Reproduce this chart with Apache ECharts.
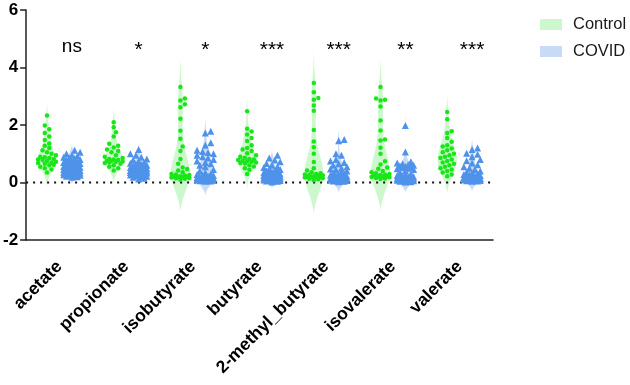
<!DOCTYPE html>
<html>
<head>
<meta charset="utf-8">
<script src="https://cdn.jsdelivr.net/npm/echarts@6/dist/echarts.min.js"></script>
<style>
    html, body { margin: 0; padding: 0; background: #fff; }
    #chart { width: 630px; height: 385px; }
</style>
</head>
<body>
<div id="chart"></div>
<script>
    var categories = ['acetate', 'propionate', 'isobutyrate', 'butyrate', '2-methyl_butyrate', 'isovalerate', 'valerate'];
    var significance = ['ns', '*', '*', '***', '***', '**', '***'];

    // Control (green dots)
    var acetateControl = [2.33, 1.98, 1.85, 1.72, 1.6, 1.48, 1.36, 1.28, 1.2, 1.12, 1.05, 1.0, 0.95, 0.9, 0.88, 0.85, 0.82, 0.8, 0.78, 0.75, 0.72, 0.7, 0.68, 0.65, 0.62, 0.6, 0.55, 0.5, 0.45, 0.35];
    var propionateControl = [2.1, 1.92, 1.75, 1.6, 1.35, 1.28, 1.22, 1.15, 1.1, 1.05, 0.95, 0.9, 0.85, 0.82, 0.8, 0.78, 0.76, 0.75, 0.73, 0.72, 0.7, 0.68, 0.65, 0.6, 0.55, 0.5, 0.42];
    var isobutyrateControl = [3.32, 2.92, 2.85, 2.72, 2.62, 2.22, 1.8, 1.52, 1.25, 1.1, 0.82, 0.65, 0.52, 0.47, 0.42, 0.36, 0.3, 0.28, 0.26, 0.24, 0.22, 0.21, 0.2, 0.19, 0.18, 0.17, 0.16, 0.15, 0.13, 0.1];
    var butyrateControl = [2.48, 1.87, 1.77, 1.67, 1.55, 1.44, 1.3, 1.2, 1.15, 1.1, 1.02, 0.95, 0.9, 0.86, 0.82, 0.8, 0.78, 0.76, 0.74, 0.72, 0.7, 0.68, 0.66, 0.6, 0.56, 0.5, 0.44, 0.3];
    var methylButyrateControl = [3.46, 3.14, 2.94, 2.88, 2.68, 2.5, 1.83, 1.43, 1.23, 1.0, 0.71, 0.5, 0.42, 0.36, 0.32, 0.3, 0.28, 0.26, 0.25, 0.24, 0.22, 0.21, 0.2, 0.19, 0.18, 0.17, 0.15, 0.13, 0.11, 0.08];
    var isovalerateControl = [3.32, 2.92, 2.88, 2.85, 2.64, 2.16, 1.81, 1.5, 1.46, 1.21, 1.0, 0.74, 0.63, 0.52, 0.48, 0.4, 0.36, 0.32, 0.3, 0.28, 0.26, 0.24, 0.22, 0.21, 0.2, 0.19, 0.18, 0.16, 0.14, 0.12];
    var valerateControl = [2.45, 2.2, 1.78, 1.72, 1.55, 1.42, 1.3, 1.25, 1.18, 1.12, 1.05, 1.0, 0.95, 0.9, 0.85, 0.8, 0.75, 0.7, 0.65, 0.6, 0.55, 0.5, 0.45, 0.4, 0.35, 0.28, 0.22];

    // COVID (blue triangles)
    var acetateCovid = [1.12, 1.05, 1.0, 0.95, 0.92, 0.88, 0.85, 0.82, 0.8, 0.78, 0.75, 0.72, 0.7, 0.68, 0.66, 0.64, 0.62, 0.6, 0.58, 0.56, 0.55, 0.53, 0.52, 0.5, 0.48, 0.47, 0.45, 0.44, 0.42, 0.41, 0.4, 0.38, 0.37, 0.36, 0.35, 0.33, 0.32, 0.31, 0.3, 0.28, 0.27, 0.26, 0.25, 0.24, 0.22, 0.2, 0.18];
    var propionateCovid = [1.15, 1.0, 0.95, 0.88, 0.82, 0.78, 0.74, 0.7, 0.67, 0.64, 0.62, 0.6, 0.58, 0.56, 0.54, 0.52, 0.5, 0.49, 0.48, 0.46, 0.45, 0.44, 0.42, 0.41, 0.4, 0.39, 0.38, 0.37, 0.36, 0.35, 0.34, 0.33, 0.32, 0.3, 0.29, 0.28, 0.26, 0.24, 0.22, 0.2, 0.18, 0.15, 0.12];
    var isobutyrateCovid = [1.78, 1.72, 1.38, 1.3, 1.12, 1.08, 1.04, 1.0, 0.95, 0.9, 0.85, 0.8, 0.75, 0.7, 0.65, 0.6, 0.55, 0.45, 0.4, 0.35, 0.3, 0.28, 0.26, 0.24, 0.22, 0.2, 0.19, 0.18, 0.17, 0.16, 0.15, 0.14, 0.13, 0.12, 0.11, 0.1, 0.09, 0.08, 0.07, 0.06, 0.05, 0.04];
    var butyrateCovid = [0.95, 0.85, 0.78, 0.72, 0.66, 0.6, 0.56, 0.52, 0.48, 0.45, 0.42, 0.4, 0.38, 0.36, 0.34, 0.32, 0.3, 0.28, 0.27, 0.26, 0.25, 0.24, 0.22, 0.21, 0.2, 0.19, 0.18, 0.17, 0.16, 0.15, 0.14, 0.13, 0.12, 0.11, 0.1, 0.09, 0.08, 0.07, 0.06, 0.05, 0.04, 0.02];
    var methylButyrateCovid = [1.5, 1.45, 1.0, 0.95, 0.8, 0.75, 0.7, 0.65, 0.6, 0.55, 0.5, 0.47, 0.44, 0.4, 0.36, 0.33, 0.3, 0.28, 0.26, 0.24, 0.22, 0.2, 0.19, 0.18, 0.17, 0.16, 0.15, 0.14, 0.13, 0.12, 0.11, 0.1, 0.09, 0.08, 0.07, 0.06, 0.05, 0.04, 0.03];
    var isovalerateCovid = [1.98, 1.06, 0.72, 0.68, 0.65, 0.62, 0.6, 0.58, 0.56, 0.54, 0.52, 0.5, 0.48, 0.45, 0.4, 0.35, 0.3, 0.26, 0.24, 0.22, 0.2, 0.19, 0.18, 0.17, 0.16, 0.15, 0.14, 0.13, 0.12, 0.11, 0.1, 0.09, 0.08, 0.07, 0.06, 0.05, 0.04, 0.03, 0.02];
    var valerateCovid = [1.2, 1.15, 1.02, 0.98, 0.9, 0.8, 0.76, 0.68, 0.62, 0.55, 0.5, 0.45, 0.4, 0.36, 0.33, 0.3, 0.28, 0.26, 0.24, 0.22, 0.2, 0.19, 0.18, 0.17, 0.16, 0.15, 0.14, 0.13, 0.12, 0.11, 0.1, 0.09, 0.08, 0.07, 0.06, 0.05, 0.04];

    var controlGroups = [acetateControl, propionateControl, isobutyrateControl, butyrateControl, methylButyrateControl, isovalerateControl, valerateControl];
    var covidGroups = [acetateCovid, propionateCovid, isobutyrateCovid, butyrateCovid, methylButyrateCovid, isovalerateCovid, valerateCovid];

    var yMin = -2, yMax = 6, yStep = 2;
    var starLevel = 4.72;

    var GRID = {left: 24, right: 137, top: 10, bottom: 145};
    var plotW = 630 - GRID.left - GRID.right;
    var plotH = 385 - GRID.top - GRID.bottom;
    var pxPerCat = plotW / categories.length;
    var pxPerUnit = plotH / (yMax - yMin);
    var groupOff = 12.5 / pxPerCat;
    var violinHalf = 9.5;

    var FONT = '"Liberation Sans", Arial, sans-serif';
    var GREEN = '#19e619', GREEN_FILL = '#cdf7cd', GREEN_LINE = '#a8eea8';
    var BLUE = '#4f92ea', BLUE_FILL = '#c7dbf6', BLUE_LINE = '#a6c4ef';

    // gaussian kde, cut at 2 bandwidths past the data and tapered to zero
    function kde(values) {
        var n = values.length;
        var mean = values.reduce(function (a, b) { return a + b; }, 0) / n;
        var sd = Math.sqrt(values.reduce(function (a, b) { return a + (b - mean) * (b - mean); }, 0) / (n - 1));
        var bw = 1.06 * sd * Math.pow(n, -0.2);
        var lo = Math.min.apply(null, values) - 2 * bw;
        var hi = Math.max.apply(null, values) + 2 * bw;
        var steps = 90, pts = [];
        for (var k = 0; k <= steps; k++) {
            var y = lo + (hi - lo) * k / steps;
            var d = 0;
            values.forEach(function (v) { var z = (y - v) / bw; d += Math.exp(-0.5 * z * z); });
            pts.push([y, d]);
        }
        var dLo = pts[0][1], dHi = pts[steps][1];
        var maxW = 0;
        pts.forEach(function (p, k) {
            p[1] = Math.max(0, p[1] - (dLo + (dHi - dLo) * k / steps));
            maxW = Math.max(maxW, p[1]);
        });
        pts.forEach(function (p) { p[1] = p[1] / maxW * violinHalf; });
        return pts;
    }

    function quantile(values, q) {
        var s = values.slice().sort(function (a, b) { return a - b; });
        var pos = (s.length - 1) * q, b = Math.floor(pos);
        return s[b] + (s[Math.min(b + 1, s.length - 1)] - s[b]) * (pos - b);
    }

    // beeswarm offsets in pixels
    function swarm(values, d, maxOff) {
        var placed = [], out = [];
        var order = values.map(function (v, k) { return k; }).sort(function (a, b) { return values[a] - values[b]; });
        order.forEach(function (k) {
            var y = values[k] * pxPerUnit;
            var best = 0, bestScore = -1;
            var nSteps = Math.floor(maxOff / (d / 2));
            for (var s = 0; s <= 2 * nSteps; s++) {
                var off = (s === 0) ? 0 : ((s % 2) ? 1 : -1) * Math.ceil(s / 2) * d / 2;
                var minD = Infinity;
                placed.forEach(function (p) {
                    var dd = Math.sqrt((p[0] - off) * (p[0] - off) + (p[1] - y) * (p[1] - y));
                    if (dd < minD) minD = dd;
                });
                if (minD >= d) { best = off; break; }
                if (minD > bestScore) { bestScore = minD; best = off; }
            }
            placed.push([best, y]);
            out[k] = best;
        });
        return out;
    }

    function violinSeries(name, groups, side, fill, line) {
        var shapes = groups.map(kde);
        return {
            name: name,
            type: 'custom',
            xAxisIndex: 1,
            z: 1,
            silent: true,
            data: groups.map(function (g, i) { return [i + 0.5 + side * groupOff, 0, i]; }),
            renderItem: function (params, api) {
                var i = api.value(2), cx = api.value(0);
                var left = [], right = [];
                shapes[i].forEach(function (p) {
                    var c = api.coord([cx, p[0]]);
                    left.push([c[0] - p[1], c[1]]);
                    right.unshift([c[0] + p[1], c[1]]);
                });
                var children = [{
                    type: 'polygon',
                    shape: {points: left.concat(right)},
                    style: {fill: fill, stroke: null}
                }];
                [0.25, 0.5, 0.75].forEach(function (q) {
                    var v = quantile(groups[i], q);
                    var c = api.coord([cx, v]);
                    var w = shapes[i][0];
                    shapes[i].forEach(function (p) { if (Math.abs(p[0] - v) < Math.abs(w[0] - v)) w = p; });
                    children.push({
                        type: 'line',
                        shape: {x1: c[0] - w[1], y1: c[1], x2: c[0] + w[1], y2: c[1]},
                        style: {stroke: line, lineWidth: 1, lineDash: q === 0.5 ? null : [3, 2]}
                    });
                });
                return {type: 'group', children: children};
            }
        };
    }

    function pointSeries(name, groups, side, symbol, size, color, spacing, maxOff) {
        var data = [];
        groups.forEach(function (g, i) {
            var offs = swarm(g, spacing, maxOff);
            g.forEach(function (v, k) {
                data.push([i + 0.5 + side * groupOff + offs[k] / pxPerCat, v]);
            });
        });
        return {
            name: name,
            type: 'scatter',
            xAxisIndex: 1,
            z: 3,
            symbol: symbol,
            symbolSize: size,
            itemStyle: {color: color, opacity: 1},
            silent: true,
            data: data
        };
    }

    var chart = echarts.init(document.getElementById('chart'));
    chart.setOption({
        animation: false,
        grid: GRID,
        legend: {
            orient: 'vertical',
            left: 535,
            top: 11,
            itemWidth: 22,
            itemHeight: 11,
            itemGap: 10,
            icon: 'rect',
            textStyle: {fontFamily: FONT, fontSize: 16.5, color: '#1a1a1a', padding: [0, 0, 0, 6]},
            data: [
                {name: 'Control', itemStyle: {color: GREEN_FILL}},
                {name: 'COVID', itemStyle: {color: BLUE_FILL}}
            ]
        },
        xAxis: [
            {
                type: 'category',
                data: categories,
                boundaryGap: true,
                axisLine: {onZero: false, lineStyle: {color: '#222', width: 1.5}},
                axisTick: {alignWithLabel: true, length: 6, lineStyle: {color: '#222', width: 1.5}},
                axisLabel: {rotate: 45, margin: 24, fontFamily: FONT, fontSize: 17.5, fontWeight: 'bold', color: '#000', interval: 0},
                splitLine: {show: false}
            },
            {
                type: 'value',
                min: 0,
                max: categories.length,
                show: false
            }
        ],
        yAxis: {
            type: 'value',
            min: yMin,
            max: yMax,
            interval: yStep,
            axisLine: {show: true, onZero: false, lineStyle: {color: '#222', width: 1.5}},
            axisTick: {show: true, length: 6, lineStyle: {color: '#222', width: 1.5}},
            axisLabel: {margin: 8, fontFamily: FONT, fontSize: 17, fontWeight: 'bold', color: '#000'},
            splitLine: {show: false}
        },
        series: [
            violinSeries('Control', controlGroups, -1, GREEN_FILL, GREEN_LINE),
            violinSeries('COVID', covidGroups, 1, BLUE_FILL, BLUE_LINE),
            {
                type: 'line',
                xAxisIndex: 1,
                z: 2,
                symbol: 'none',
                silent: true,
                lineStyle: {color: '#111', width: 2, type: [2, 5]},
                data: [[0, 0], [categories.length, 0]]
            },
            pointSeries('COVID', covidGroups, 1, 'triangle', 7, BLUE, 5.5, 9),
            pointSeries('Control', controlGroups, -1, 'circle', 4.5, GREEN, 4.5, 10),
            {
                type: 'custom',
                xAxisIndex: 1,
                z: 4,
                silent: true,
                data: significance.map(function (s, i) { return [i + 0.5 + groupOff, starLevel, i]; }),
                renderItem: function (params, api) {
                    var c = api.coord([api.value(0), api.value(1)]);
                    var txt = significance[api.value(2)];
                    return {
                        type: 'text',
                        x: c[0],
                        y: c[1] + (txt === 'ns' ? 0 : 3),
                        style: {
                            text: txt,
                            fill: '#000',
                            font: (txt === 'ns' ? 19 : 21) + 'px ' + FONT,
                            align: 'center',
                            verticalAlign: 'middle'
                        }
                    };
                }
            }
        ]
    });
</script>
</body>
</html>
